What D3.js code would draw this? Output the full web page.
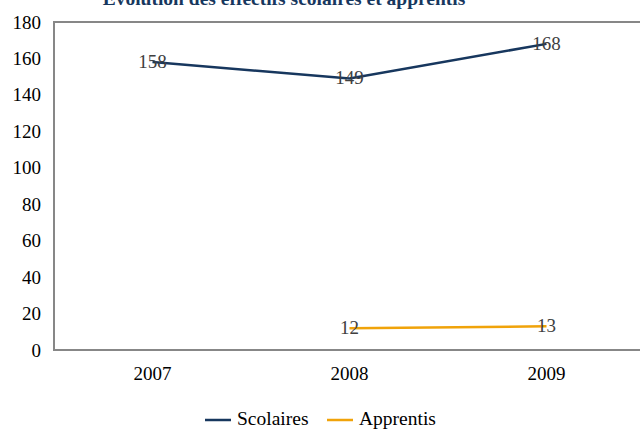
<!DOCTYPE html>
<html lang="fr">
<head>
    <meta charset="UTF-8">
    <title>Evolution des effectifs</title>
    <style>
        body { margin: 0; background: #fff; }
        svg text { font-family: "Liberation Serif", "Times New Roman", serif; }
    </style>
</head>
<body>
    <div id="chart"></div>
    <script src="https://d3js.org/d3.v7.min.js"></script>
    <script>
        // data
        var years = ["2007", "2008", "2009"];
        var scolaires = [158, 149, 168];
        var apprentis = [null, 12, 13];
        var yTicks = [0, 20, 40, 60, 80, 100, 120, 140, 160, 180];
        var seriesNames = ["Scolaires", "Apprentis"];
        var seriesColors = ["#17375E", "#F0A30A"];

        var width = 640, height = 430;
        var plot = {left: 54, top: 22, right: 645, bottom: 350};
        var serif = "'Liberation Serif', 'Times New Roman', serif";

        var svg = d3.select("#chart").append("svg")
            .attr("width", width)
            .attr("height", height)
            .attr("font-family", serif);

        var x = d3.scaleBand().domain(years).range([plot.left, plot.right]);
        var y = d3.scaleLinear().domain([0, 180]).range([plot.bottom, plot.top]);

        // title (cut off at the top like the original)
        svg.append("text")
            .attr("x", 284)
            .attr("y", 5)
            .attr("text-anchor", "middle")
            .attr("font-size", 19.5)
            .attr("font-weight", "bold")
            .attr("fill", "#17375E")
            .text("Évolution des effectifs scolaires et apprentis");

        // plot frame
        svg.append("rect")
            .attr("x", plot.left)
            .attr("y", plot.top)
            .attr("width", plot.right - plot.left)
            .attr("height", plot.bottom - plot.top)
            .attr("fill", "none")
            .attr("stroke", "#878787")
            .attr("stroke-width", 2);

        // y axis labels
        var yAxis = d3.axisLeft(y).tickValues(yTicks).tickSize(0).tickPadding(13);
        var gy = svg.append("g").attr("transform", "translate(" + plot.left + ",0)").call(yAxis)
            .attr("font-family", serif).attr("font-size", 19);
        gy.select(".domain").remove();
        gy.selectAll("text").attr("fill", "#000");

        // x axis labels
        var xAxis = d3.axisBottom(x).tickSize(0).tickPadding(17);
        var gx = svg.append("g").attr("transform", "translate(0," + plot.bottom + ")").call(xAxis)
            .attr("font-family", serif).attr("font-size", 19);
        gx.select(".domain").remove();
        gx.selectAll("text").attr("fill", "#000");

        var cx = function(d, i) { return x(years[i]) + x.bandwidth() / 2; };

        var series = [scolaires, apprentis];
        series.forEach(function(vals, s) {
            var line = d3.line()
                .defined(function(d) { return d != null; })
                .x(cx)
                .y(function(d) { return y(d); });

            svg.append("path")
                .datum(vals)
                .attr("d", line)
                .attr("fill", "none")
                .attr("stroke", seriesColors[s])
                .attr("stroke-width", 2.5);
        });

        // data labels on top of the lines
        series.forEach(function(vals) {
            vals.forEach(function(v, i) {
                if (v == null) return;
                svg.append("text")
                    .attr("x", cx(v, i))
                    .attr("y", y(v) + 6)
                    .attr("text-anchor", "middle")
                    .attr("font-size", 19)
                    .attr("fill", "#404040")
                    .text(v);
            });
        });

        // legend
        var legendX = [205, 327];
        seriesNames.forEach(function(name, i) {
            var g = svg.append("g").attr("transform", "translate(" + legendX[i] + ",420)");
            g.append("line")
                .attr("x1", 0).attr("x2", 26)
                .attr("stroke", seriesColors[i])
                .attr("stroke-width", 2.5);
            g.append("text")
                .attr("x", 32)
                .attr("y", 5)
                .attr("font-size", 19.5)
                .attr("fill", "#000")
                .text(name);
        });
    </script>
</body>
</html>
